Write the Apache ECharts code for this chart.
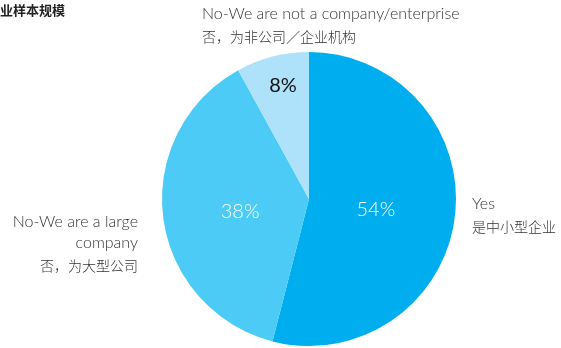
<!DOCTYPE html>
<html>
<head>
<meta charset="utf-8">
<script src="https://cdn.jsdelivr.net/npm/echarts@6/dist/echarts.min.js"></script>
<style>
  html, body { margin: 0; padding: 0; background: #fff; }
  #chart { width: 561px; height: 348px; }
</style>
</head>
<body>
<div id="chart"></div>
<script>
let titleText = "业样本规模"
let namesEn = ["Yes", "No-We are a large\ncompany", "No-We are not a company/enterprise"]
let namesCn = ["是中小型企业", "否，为大型公司", "否，为非公司／企业机构"]
let values = [54, 38, 8]
let color = ["#00aeef", "#4ccbf6", "#aee1fa"]

// where the name labels sit, per slice
let nameSpots = [
  { x: 472, y: 193, align: "left" },
  { x: 138, y: 211, align: "right" },
  { x: 202, y: 3, align: "left" }
]
// nudges for the percentage labels
let pctNudge = [
  { dx: -9, dy: 1 },
  { dx: 7, dy: 3 },
  { dx: -7, dy: -39 }
]

let font = "Lato, 'Noto Sans CJK SC', sans-serif"
let cnFont = "'Noto Sans CJK SC', sans-serif"
let data = values.map((v, i) => ({ value: v, name: namesEn[i], itemStyle: { color: color[i] } }))

let option = {
  animation: false,
  title: {
    text: titleText, left: 0, top: 4, padding: 0,
    textStyle: { fontSize: 13, fontWeight: "bold", color: "#222", fontFamily: cnFont }
  },
  series: [
    {
      type: "pie",
      center: [309, 199],
      radius: 147,
      startAngle: 90,
      clockwise: true,
      data: data,
      silent: true,
      label: {
        show: true,
        position: "inside",
        formatter: p => p.value + "%",
        fontSize: 20,
        fontWeight: 300,
        fontFamily: font,
        color: "#fff"
      },
      labelLayout: p => pctNudge[p.dataIndex],
      itemStyle: { borderWidth: 0 },
      emphasis: { disabled: true }
    },
    {
      type: "pie",
      center: [309, 199],
      radius: 147,
      startAngle: 90,
      z: 1,
      silent: true,
      data: data.map(d => ({ value: d.value, name: d.name, itemStyle: { color: "transparent" } })),
      label: {
        show: true,
        position: "outside",
        overflow: "none",
        formatter: p => p.name.split("\n").map(s => "{en|" + s + "}").join("\n") + "\n{cn|" + namesCn[p.dataIndex] + "}",
        rich: {
          en: { fontSize: 16, fontWeight: 300, color: "#333", fontFamily: font, lineHeight: 21 },
          cn: { fontSize: 14, fontWeight: 300, color: "#333", fontFamily: cnFont, lineHeight: 25 }
        }
      },
      labelLine: { show: false },
      labelLayout: p => ({
        x: nameSpots[p.dataIndex].x,
        y: nameSpots[p.dataIndex].y,
        align: nameSpots[p.dataIndex].align,
        verticalAlign: "top"
      }),
      emphasis: { disabled: true }
    }
  ]
}
// 8% sits on the pale slice, so dark text there
option.series[0].data[2].label = { color: "#111", fontWeight: "normal" }

let chart = echarts.init(document.getElementById("chart"))
chart.setOption(option)
window.addEventListener("resize", function () {
  chart.resize()
})
</script>
</body>
</html>
